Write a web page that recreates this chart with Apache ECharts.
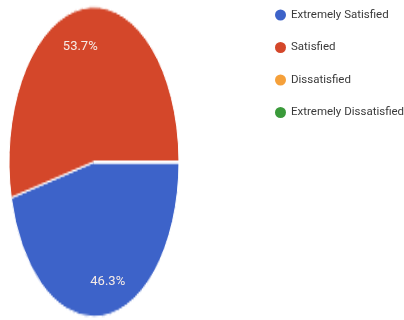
<!DOCTYPE html>
<html>
<head>
<meta charset="utf-8">
<script src="https://cdn.jsdelivr.net/npm/echarts@6/dist/echarts.min.js"></script>
<style>
  html, body { margin: 0; padding: 0; background: #ffffff; overflow: hidden; }
  #stage { position: relative; width: 404px; height: 320px; overflow: hidden; }
  /* the pie is stretched vertically into an ellipse */
  #pie { position: absolute; left: 0; top: 0; width: 190px; height: 180px;
         transform: scaleY(1.8235); transform-origin: 0 0; }
  #overlay { position: absolute; left: 0; top: 0; width: 404px; height: 320px; }
</style>
</head>
<body>
<div id="stage">
  <div id="pie"></div>
  <div id="overlay"></div>
</div>
<script>
// Survey answers and their shares (percent)
const categories = ['Extremely Satisfied', 'Satisfied', 'Dissatisfied', 'Extremely Dissatisfied'];
const shares = [46.3, 53.7, 0, 0];
const colors = ['#3d63c9', '#d4472a', '#f5a03a', '#3a9a3a'];

const seriesData = categories.map((name, i) => ({ name: name, value: shares[i] }));

// Elliptical pie: drawn as a circle in a vertically scaled container
const pieChart = echarts.init(document.getElementById('pie'), null, { renderer: 'canvas' });
pieChart.setOption({
  animation: false,
  color: colors,
  series: [{
    type: 'pie',
    center: [94, 88.8],
    radius: 85,
    startAngle: 0,
    clockwise: true,
    silent: true,
    label: { show: false },
    labelLine: { show: false },
    itemStyle: { borderColor: '#ffffff', borderWidth: 1 },
    data: seriesData
  }]
});

// Unscaled layer: percentage labels and the legend
const overlay = echarts.init(document.getElementById('overlay'), null, { renderer: 'canvas' });
overlay.setOption({
  animation: false,
  legend: {
    orient: 'vertical',
    left: 275,
    top: 9,
    padding: 0,
    itemGap: 20.5,
    itemWidth: 11,
    itemHeight: 14,
    icon: 'path://M50,0A50,50 0 1 1 50,100A50,50 0 1 1 50,0Z',
    selectedMode: false,
    textStyle: { fontFamily: 'Roboto, Arial, sans-serif', fontSize: 11.5, color: '#3a3a3a' },
    data: categories.map((name, i) => ({ name: name, itemStyle: { color: colors[i] } }))
  },
  series: [{
    type: 'pie',
    center: [94, 164.5],
    radius: [98, 133],
    startAngle: 0,
    clockwise: true,
    silent: true,
    itemStyle: { color: 'rgba(0,0,0,0)', borderWidth: 0 },
    labelLine: { show: false },
    label: {
      show: true,
      position: 'inside',
      fontFamily: 'Roboto, Arial, sans-serif',
      fontSize: 13,
      color: '#f7ece6',
      formatter: p => (p.value ? p.percent.toFixed(1) + '%' : '')
    },
    data: seriesData
  }]
});
</script>
</body>
</html>
